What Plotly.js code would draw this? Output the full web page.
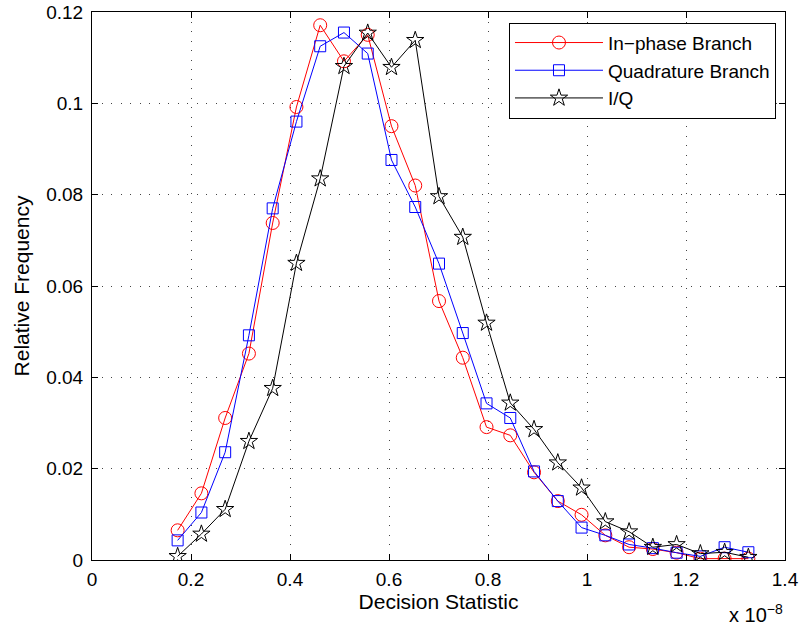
<!DOCTYPE html>
<html>
<head>
<meta charset="utf-8">
<script src="https://cdn.plot.ly/plotly-3.0.1.min.js"></script>
<style>html,body{margin:0;padding:0;background:#fff;}#chart{width:801px;height:628px;}</style>
</head>
<body>
<div id="chart"></div>
<script>
const xValues = [0.173, 0.221, 0.269, 0.317, 0.365, 0.413, 0.461, 0.509, 0.557, 0.605, 0.653, 0.701, 0.749, 0.797, 0.845, 0.893, 0.941, 0.989, 1.037, 1.085, 1.133, 1.181, 1.229, 1.278, 1.326];
const inPhase = [0.0065, 0.0146, 0.0311, 0.0452, 0.0738, 0.0992, 0.1171, 0.1092, 0.1150, 0.0950, 0.0820, 0.0567, 0.0443, 0.0291, 0.0273, 0.0192, 0.0129, 0.0099, 0.0054, 0.0028, 0.0024, 0.0016, 0.0003, 0.0003, 0.0003];
const quadrature = [0.0043, 0.0104, 0.0236, 0.0492, 0.0770, 0.0960, 0.1125, 0.1155, 0.1109, 0.0876, 0.0773, 0.0649, 0.0497, 0.0343, 0.0311, 0.0194, 0.0129, 0.0071, 0.0054, 0.0034, 0.0026, 0.0016, 0.0008, 0.0028, 0.0017];
const iq = [0.0008, 0.0057, 0.0111, 0.0260, 0.0376, 0.0650, 0.0835, 0.1081, 0.1154, 0.1079, 0.1138, 0.0796, 0.0707, 0.0519, 0.0344, 0.0286, 0.0213, 0.0158, 0.0084, 0.0062, 0.0028, 0.0034, 0.0014, 0.0017, 0.0006];
const seriesNames = ["In\u2212phase Branch", "Quadrature Branch", "I/Q"];
const xTicks = [0, 0.2, 0.4, 0.6, 0.8, 1, 1.2, 1.4];
const xTickText = ["0", "0.2", "0.4", "0.6", "0.8", "1", "1.2", "1.4"];
const yTicks = [0, 0.02, 0.04, 0.06, 0.08, 0.1, 0.12];
const yTickText = ["0", "0.02", "0.04", "0.06", "0.08", "0.1", "0.12"];

const FONT = "Liberation Sans, Arial, Helvetica, sans-serif";
const traces = [
  {x: xValues, y: inPhase, name: seriesNames[0], mode: "lines+markers", type: "scatter",
   line: {color: "#ff0000", width: 1}, marker: {symbol: "circle-open", size: 13, color: "#ff0000", line: {width: 1}}},
  {x: xValues, y: quadrature, name: seriesNames[1], mode: "lines+markers", type: "scatter",
   line: {color: "#0000ff", width: 1}, marker: {symbol: "square-open", size: 11, color: "#0000ff", line: {width: 1}}},
  {x: xValues, y: iq, name: seriesNames[2], mode: "lines+markers", type: "scatter",
   line: {color: "#000000", width: 1}, marker: {symbol: "star-open", size: 13, color: "#000000", line: {width: 1}}}
];
const axisCommon = {
  showline: true, linecolor: "#000", linewidth: 1, mirror: "ticks",
  ticks: "inside", ticklen: 6, tickcolor: "#000", tickwidth: 1,
  showgrid: true, gridcolor: "#444", gridwidth: 1, griddash: "1px,8.5px",
  zeroline: false, tickfont: {family: FONT, size: 19, color: "#000"}
};
const layout = {
  width: 801, height: 628,
  margin: {l: 92, r: 16, t: 12, b: 68},
  paper_bgcolor: "#fff", plot_bgcolor: "#fff",
  font: {family: FONT, color: "#000"},
  showlegend: true,
  legend: {x: 0.987, y: 0.9805, xanchor: "right", yanchor: "top", bgcolor: "#fff",
           bordercolor: "#000", borderwidth: 1, font: {family: FONT, size: 19, color: "#000"},
           tracegroupgap: 0, itemwidth: 88},
  xaxis: Object.assign({}, axisCommon, {range: [0, 1.4], tickvals: xTicks, ticktext: xTickText,
           ticklabelstandoff: 2,
           title: {text: "Decision Statistic", font: {family: FONT, size: 21, color: "#000"}, standoff: 2}}),
  yaxis: Object.assign({}, axisCommon, {range: [0, 0.12], tickvals: yTicks, ticktext: yTickText,
           ticklabelstandoff: 4,
           title: {text: "Relative Frequency", font: {family: FONT, size: 21, color: "#000"}, standoff: 10}}),
  annotations: [{xref: "paper", yref: "paper", x: 1, y: 0, xanchor: "right", yanchor: "top", yshift: -39, xshift: 0,
    text: "x 10<sup>\u22128</sup>", showarrow: false, font: {family: FONT, size: 20, color: "#000"}}]
};
Plotly.newPlot("chart", traces, layout, {displayModeBar: false, staticPlot: true});
</script>
</body>
</html>
